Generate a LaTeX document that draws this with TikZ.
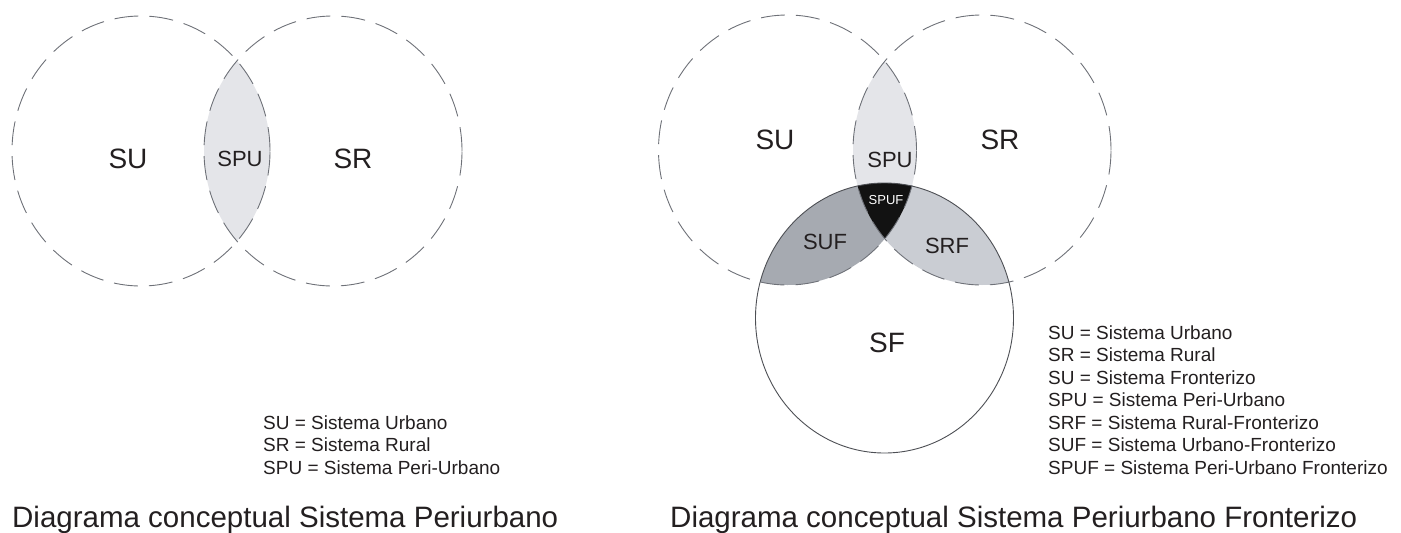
\documentclass[tikz,border=0pt]{standalone}
\usepackage{fontspec}
\setmainfont{Liberation Sans}
\definecolor{ink}{HTML}{231F20}
\definecolor{rim}{HTML}{6E7178}
\definecolor{pufill}{HTML}{E4E5E9}
\definecolor{uffill}{HTML}{A6AAB1}
\definecolor{rffill}{HTML}{CACDD3}
\definecolor{puffill}{HTML}{121212}
\begin{document}
\begin{tikzpicture}[x=1pt,y=-1pt,
  dashring/.style={draw=rim, line width=0.9pt, dash pattern=on 24pt off 11pt},
  solidring/.style={draw=rim!70!black, line width=0.9pt},
  biglabel/.style={font=\fontsize{28}{30}\selectfont, text=ink, inner sep=0pt},
  midlabel/.style={font=\fontsize{22}{24}\selectfont, text=ink, inner sep=0pt},
  tinylabel/.style={font=\fontsize{13}{15}\selectfont, text=white, inner sep=0pt},
  legendline/.style={font=\fontsize{19}{22}\selectfont, text=ink, inner sep=0pt, anchor=base west},
  caption/.style={font=\fontsize{29.5}{32}\selectfont, text=ink, inner sep=0pt, anchor=base west}]
\useasboundingbox (0,0) rectangle (1401,533);

% ---------- two-set diagram ----------
\begin{scope}
  \clip (141,151) ellipse [x radius=129pt, y radius=135pt];
  \fill[pufill] (333,151) ellipse [x radius=129pt, y radius=135pt];
\end{scope}
\draw[dashring] (141,151) ellipse [x radius=129pt, y radius=135pt];
\draw[dashring] (333,151) ellipse [x radius=129pt, y radius=135pt];

\node[biglabel] (lsu) at (128,159) {SU};
\node[midlabel] (lspu) at (240,159) {SPU};
\node[biglabel] (lsr) at (353,159) {SR};

\node[legendline] (lleg1) at (263,429) {SU = Sistema Urbano};
\node[legendline] (lleg2) at (263,451.5) {SR = Sistema Rural};
\node[legendline] (lleg3) at (263,474) {SPU = Sistema Peri-Urbano};

\node[caption] (lcap) at (12,527) {Diagrama conceptual Sistema Periurbano};

% ---------- three-set diagram ----------
\begin{scope}
  \clip (787.5,150) ellipse [x radius=129pt, y radius=135pt];
  \fill[pufill] (982,150) ellipse [x radius=129pt, y radius=135pt];
  \fill[uffill] (884.5,318) ellipse [x radius=129pt, y radius=135pt];
\end{scope}
\begin{scope}
  \clip (982,150) ellipse [x radius=129pt, y radius=135pt];
  \fill[rffill] (884.5,318) ellipse [x radius=129pt, y radius=135pt];
  \clip (787.5,150) ellipse [x radius=129pt, y radius=135pt];
  \fill[puffill] (884.5,318) ellipse [x radius=129pt, y radius=135pt];
\end{scope}
\draw[dashring] (787.5,150) ellipse [x radius=129pt, y radius=135pt];
\draw[dashring] (982,150) ellipse [x radius=129pt, y radius=135pt];
\draw[solidring] (884.5,318) ellipse [x radius=129pt, y radius=135pt];

\node[biglabel] (rsu) at (775,140) {SU};
\node[biglabel] (rsr) at (1000,140) {SR};
\node[midlabel] (rspu) at (890,160) {SPU};
\node[tinylabel] (rspuf) at (886,200) {SPUF};
\node[midlabel] (rsuf) at (825,242) {SUF};
\node[midlabel] (rsrf) at (947,246) {SRF};
\node[biglabel] (rsf) at (887,343) {SF};

\node[legendline] (rleg1) at (1048,339) {SU = Sistema Urbano};
\node[legendline] (rleg2) at (1048,361.5) {SR = Sistema Rural};
\node[legendline] (rleg3) at (1048,384) {SU = Sistema Fronterizo};
\node[legendline] (rleg4) at (1048,406.5) {SPU = Sistema Peri-Urbano};
\node[legendline] (rleg5) at (1048,429) {SRF = Sistema Rural-Fronterizo};
\node[legendline] (rleg6) at (1048,451.5) {SUF = Sistema Urbano-Fronterizo};
\node[legendline] (rleg7) at (1048,474) {SPUF = Sistema Peri-Urbano Fronterizo};

\node[caption] (rcap) at (670,527) {Diagrama conceptual Sistema Periurbano Fronterizo};
\end{tikzpicture}
\end{document}
